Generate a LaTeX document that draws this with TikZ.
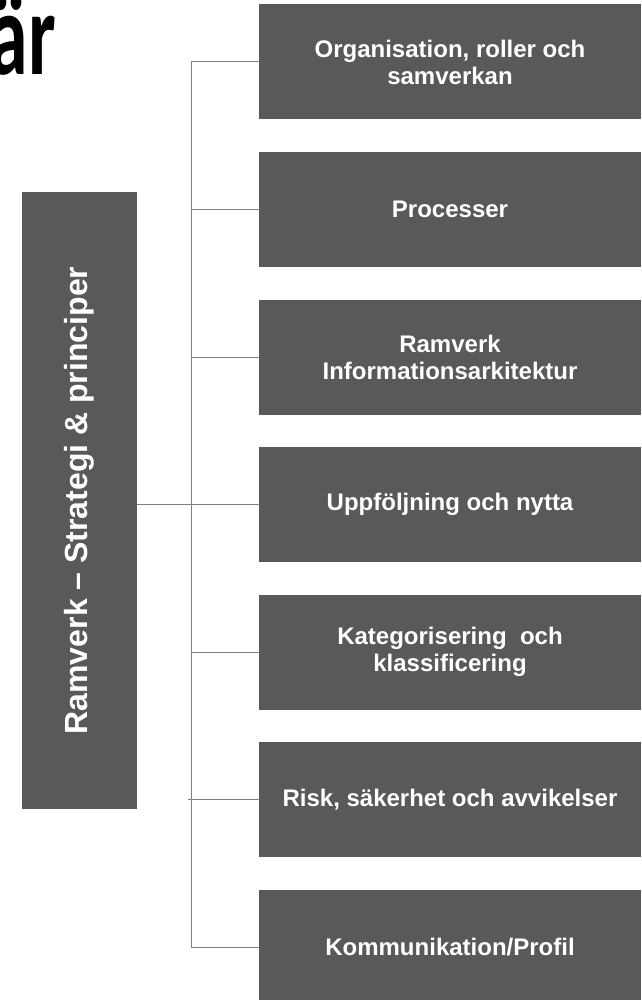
\documentclass[tikz,border=0pt]{standalone}
\usepackage{fontspec}
\setmainfont{Liberation Sans}
\newfontfamily\titlefont{Carlito}
\definecolor{boxgray}{RGB}{89,89,89}
\definecolor{linegray}{RGB}{128,128,128}
\begin{document}
\begin{tikzpicture}[x=1pt,y=-1pt,
  area/.style={fill=boxgray,text=white,inner sep=0pt,minimum width=382pt,minimum height=115pt,
    align=center,font=\fontsize{24}{27}\selectfont\bfseries},
  frame/.style={fill=boxgray,text=white,inner sep=0pt,rotate=90,minimum width=617pt,minimum height=115pt,
    font=\fontsize{32}{36}\selectfont\bfseries},
  link/.style={draw=linegray,line width=1pt}]
\useasboundingbox (0,0) rectangle (641,1000);
\node[anchor=base east,xscale=0.66,inner sep=0pt,font=\titlefont\fontsize{118}{118}\selectfont\bfseries] (title) at (56,75) {är};
\node[frame] (ramverk) at (79.5,500.5) {Ramverk -- Strategi \& principer};
\node[area] (org) at (450,62) {Organisation, roller och\\samverkan};
\node[area] (proc) at (450,209.5) {Processer};
\node[area] (arkitektur) at (450,357) {Ramverk\\Informationsarkitektur};
\node[area] (nytta) at (450,504.5) {Uppföljning och nytta};
\node[area] (klass) at (450,652) {Kategorisering~ och\\klassificering};
\node[area] (risk) at (450,799.5) {Risk, säkerhet och avvikelser};
\node[area] (profil) at (450,947) {Kommunikation/Profil};
\coordinate (bustop) at (191,62);
\coordinate (busbottom) at (191,947);
\draw [link] (org.west) -- (bustop) -- (busbottom) -- (profil.west);
\draw [link] (proc.west) -- (proc.west -| bustop);
\draw [link] (arkitektur.west) -- (arkitektur.west -| bustop);
\draw [link] (nytta.west) -- (nytta.west -| ramverk.south);
\draw [link] (klass.west) -- (klass.west -| bustop);
\draw [link] (risk.west) -- ([xshift=-3pt]risk.west -| bustop);
\end{tikzpicture}
\end{document}
